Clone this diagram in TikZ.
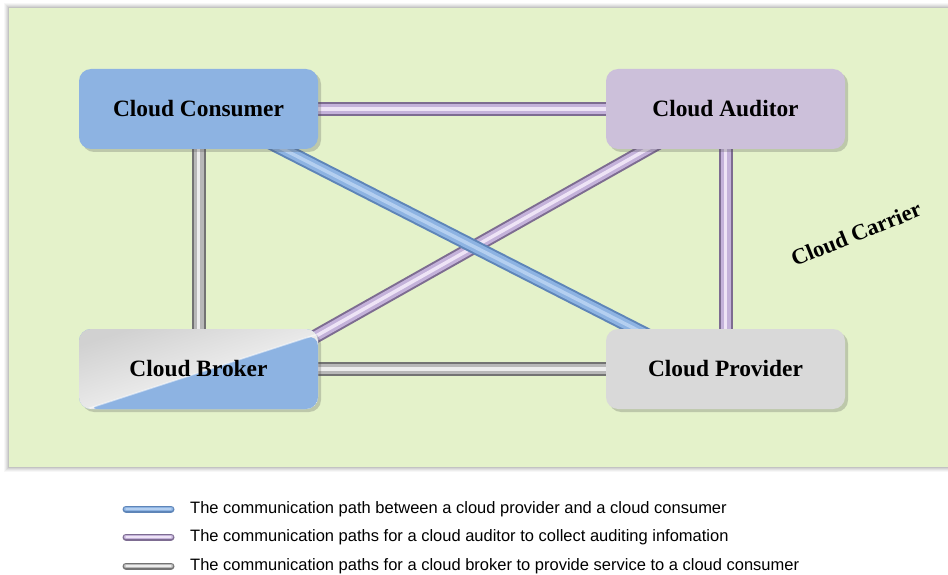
\documentclass[tikz,border=0pt]{standalone}
\usepackage{fontspec}
\setmainfont{Liberation Serif}
\newfontfamily\legendfont{Liberation Sans}
\usetikzlibrary{shadows,calc}
\definecolor{bggreen}{HTML}{E4F2CA}
\definecolor{consblue}{HTML}{8DB3E2}
\definecolor{audpurple}{HTML}{CCC0DA}
\definecolor{provgray}{HTML}{D9D9D9}
\definecolor{gOut}{HTML}{737373}
\definecolor{gMid}{HTML}{B8B8B8}
\definecolor{gHi}{HTML}{EDEDED}
\definecolor{pOut}{HTML}{7D6C91}
\definecolor{pMid}{HTML}{C4B2DA}
\definecolor{pHi}{HTML}{EEE4F6}
\definecolor{bOut}{HTML}{5E85B8}
\definecolor{bMid}{HTML}{8DB3E2}
\definecolor{bHi}{HTML}{B4CFF0}
\pgfdeclarelayer{bglayer}
\pgfdeclarelayer{pipelayer}
\pgfsetlayers{bglayer,pipelayer,main}
\tikzset{
  box/.style={rounded corners=12pt, minimum width=239pt, minimum height=80pt, inner sep=0pt,
    font=\fontsize{23.4}{27}\selectfont\bfseries,
    drop shadow={shadow xshift=3pt, shadow yshift=-3pt, opacity=0.25, fill=black!70}},
  pipe/.style n args={3}{draw=#1, line width=14pt,
    postaction={draw=#2, line width=10pt},
    postaction={draw=#3, line width=3.5pt}},
  legpipe/.style n args={3}{draw=#1, line width=7pt, line cap=round,
    postaction={draw=#2, line width=4.5pt, line cap=round},
    postaction={draw=#3, line width=1.4pt, line cap=round}},
  legtext/.style={anchor=west, inner sep=0pt, font=\legendfont\fontsize{16.5}{19}\selectfont},
}
\begin{document}
\begin{tikzpicture}[x=1pt,y=-1pt]
\useasboundingbox (0,0) rectangle (948,575);
\begin{pgfonlayer}{bglayer}
  \foreach \d/\o in {5/0.03,4/0.04,3/0.05,2/0.06,1/0.08}
    \fill[black,opacity=\o] (9-\d,8-\d) rectangle (960+\d,467+\d);
  \fill[bggreen] (9,8) rectangle (960,467);
\end{pgfonlayer}

\node[box, fill=consblue] (cc) at (198.5,109) {Cloud Consumer};
\node[box, fill=audpurple] (ca) at (725.5,109) {Cloud Auditor};
\node[box, fill=provgray] (cp) at (725.5,369) {Cloud Provider};
\node[box, fill=consblue, path picture={
   \shade[top color=black!18, middle color=white!95!black, bottom color=white, shading angle=18]
     (path picture bounding box.north west) rectangle (path picture bounding box.south east);
   \fill[consblue] ([xshift=8pt]path picture bounding box.south west) -- ([yshift=-5pt]path picture bounding box.north east)
     -- (path picture bounding box.south east) -- cycle;
   \draw[white, opacity=0.5, line width=1.5pt] ([xshift=8pt]path picture bounding box.south west) -- ([yshift=-5pt]path picture bounding box.north east);
 }] (cb) at (198.5,369) {Cloud Broker};

\node[rotate=22, font=\fontsize{22.5}{26}\selectfont\bfseries] (carrier) at (856,234) {Cloud Carrier};

\begin{pgfonlayer}{pipelayer}
  \draw[pipe={gOut}{gMid}{gHi}] (cc) -- (cb);
  \draw[pipe={gOut}{gMid}{gHi}] (cb) -- (cp);
  \draw[pipe={pOut}{pMid}{pHi}] (cc) -- (ca);
  \draw[pipe={pOut}{pMid}{pHi}] (ca) -- (cp);
  \draw[pipe={pOut}{pMid}{pHi}] ($(ca.south)+(-62.5,-9)$) -- ($(cb.north east)+(-8,10.5)$);
  \draw[pipe={bOut}{bMid}{bHi}] ($(cc.south)+(67,-9)$) -- ($(cp.north)+(-71,10)$);
\end{pgfonlayer}

\coordinate (l1a) at (126,509); \coordinate (l1b) at (171,509);
\coordinate (l2a) at (126,537); \coordinate (l2b) at (171,537);
\coordinate (l3a) at (126,566); \coordinate (l3b) at (171,566);
\draw[legpipe={bOut}{bMid}{bHi}] (l1a) -- (l1b);
\draw[legpipe={pOut}{pMid}{pHi}] (l2a) -- (l2b);
\draw[legpipe={gOut}{gMid}{gHi}] (l3a) -- (l3b);
\node[legtext] (t1) at (190,509) {The communication path between a cloud provider and a cloud consumer};
\node[legtext] (t2) at (190,537) {The communication paths for a cloud auditor to collect auditing infomation};
\node[legtext] (t3) at (190,566) {The communication paths for a cloud broker to provide service to a cloud consumer};
\end{tikzpicture}
\end{document}
